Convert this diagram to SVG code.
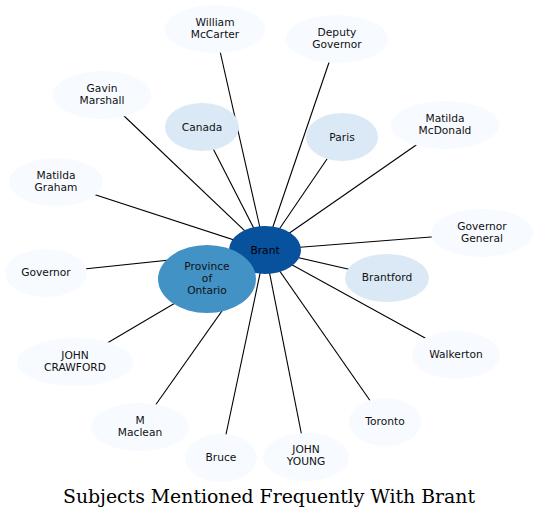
<svg xmlns="http://www.w3.org/2000/svg" width="539" height="519" viewBox="0 0 539 519">
<style>
.e{stroke:#000;stroke-width:1.1;fill:none}
.n0{fill:#f7fbff}
.n1{fill:#dbe9f6}
.n2{fill:#4292c6}
.n3{fill:#08519c}
text{font-family:"DejaVu Sans","Liberation Sans",sans-serif;font-size:10.67px;text-anchor:middle;fill:#111}
.t{font-family:"DejaVu Serif","Liberation Serif",serif;font-size:18.5px;fill:#000}
</style>
<rect width="539" height="519" fill="#fff"/>
<g id="edges">
<line class="e" x1="265" y1="250" x2="215" y2="29"/>
<line class="e" x1="265" y1="250" x2="102" y2="95"/>
<line class="e" x1="265" y1="250" x2="202" y2="127"/>
<line class="e" x1="265" y1="250" x2="56" y2="182"/>
<line class="e" x1="265" y1="250" x2="337" y2="39"/>
<line class="e" x1="265" y1="250" x2="342" y2="137"/>
<line class="e" x1="265" y1="250" x2="445" y2="125"/>
<line class="e" x1="265" y1="250" x2="482" y2="233"/>
<line class="e" x1="265" y1="250" x2="387" y2="278"/>
<line class="e" x1="265" y1="250" x2="456" y2="355"/>
<line class="e" x1="265" y1="250" x2="385" y2="422"/>
<line class="e" x1="265" y1="250" x2="306" y2="457"/>
<line class="e" x1="265" y1="250" x2="221" y2="458"/>
<line class="e" x1="265" y1="250" x2="140" y2="427"/>
<line class="e" x1="265" y1="250" x2="75" y2="362"/>
<line class="e" x1="265" y1="250" x2="46" y2="273"/>
</g>
<g id="brant"><ellipse class="n3" cx="265" cy="250" rx="36" ry="24"/><text x="265" y="254" fill="#000" style="fill:#000">Brant</text></g>
<g id="province"><ellipse class="n2" cx="207" cy="279" rx="49" ry="34"/><text x="207" y="270">Province</text><text x="207" y="282">of</text><text x="207" y="294">Ontario</text></g>
<g id="mccarter"><ellipse class="n0" cx="215" cy="29" rx="50" ry="24"/><text x="215" y="26">William</text><text x="215" y="38">McCarter</text></g>
<g id="marshall"><ellipse class="n0" cx="102" cy="95" rx="49" ry="24"/><text x="102" y="92">Gavin</text><text x="102" y="104">Marshall</text></g>
<g id="canada"><ellipse class="n1" cx="202" cy="127" rx="37" ry="24"/><text x="202" y="131">Canada</text></g>
<g id="graham"><ellipse class="n0" cx="56" cy="182" rx="47" ry="24"/><text x="56" y="179">Matilda</text><text x="56" y="191">Graham</text></g>
<g id="deputy"><ellipse class="n0" cx="337" cy="39" rx="51" ry="24"/><text x="337" y="36">Deputy</text><text x="337" y="48">Governor</text></g>
<g id="paris"><ellipse class="n1" cx="342" cy="137" rx="36" ry="24"/><text x="342" y="141">Paris</text></g>
<g id="mcdonald"><ellipse class="n0" cx="445" cy="125" rx="54" ry="24"/><text x="445" y="122">Matilda</text><text x="445" y="134">McDonald</text></g>
<g id="govgeneral"><ellipse class="n0" cx="482" cy="233" rx="51" ry="24"/><text x="482" y="230">Governor</text><text x="482" y="242">General</text></g>
<g id="brantford"><ellipse class="n1" cx="387" cy="278" rx="42" ry="24"/><text x="387" y="281">Brantford</text></g>
<g id="walkerton"><ellipse class="n0" cx="456" cy="355" rx="44" ry="24"/><text x="456" y="358">Walkerton</text></g>
<g id="toronto"><ellipse class="n0" cx="385" cy="422" rx="36" ry="24"/><text x="385" y="425">Toronto</text></g>
<g id="young"><ellipse class="n0" cx="306" cy="457" rx="43" ry="24"/><text x="306" y="453">JOHN</text><text x="306" y="465">YOUNG</text></g>
<g id="bruce"><ellipse class="n0" cx="221" cy="458" rx="36" ry="24"/><text x="221" y="461">Bruce</text></g>
<g id="maclean"><ellipse class="n0" cx="140" cy="427" rx="49" ry="24"/><text x="140" y="424">M</text><text x="140" y="436">Maclean</text></g>
<g id="crawford"><ellipse class="n0" cx="75" cy="362" rx="58" ry="24"/><text x="75" y="359">JOHN</text><text x="75" y="371">CRAWFORD</text></g>
<g id="governor"><ellipse class="n0" cx="46" cy="273" rx="41" ry="24"/><text x="46" y="276">Governor</text></g>
<text class="t" x="269" y="503" textLength="412" lengthAdjust="spacingAndGlyphs">Subjects Mentioned Frequently With Brant</text>
</svg>
